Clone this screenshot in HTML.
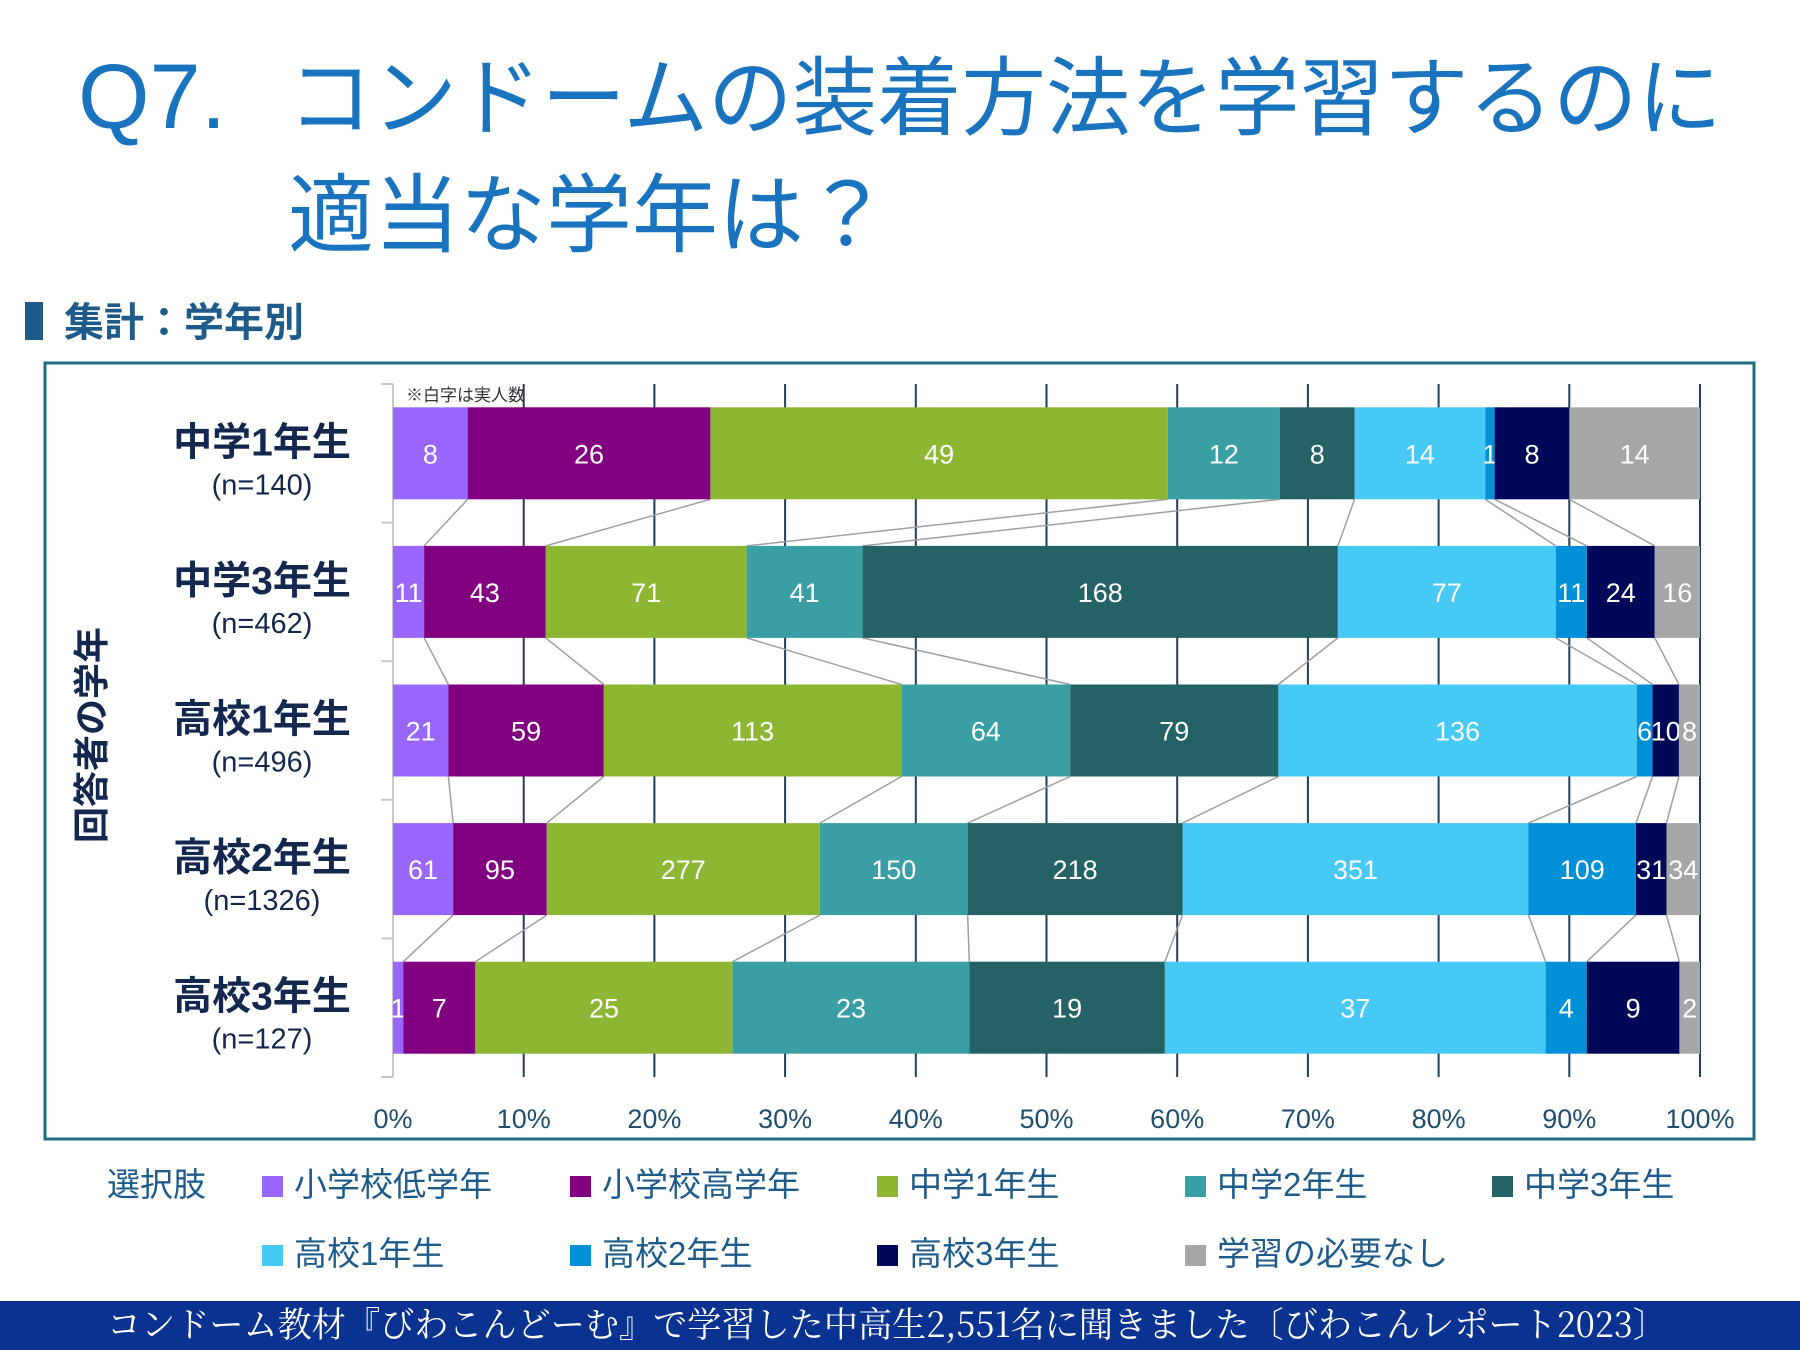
<!DOCTYPE html>
<html><head><meta charset="utf-8">
<style>
body{margin:0;width:1800px;height:1350px;background:#fff;overflow:hidden;font-family:"Liberation Sans","Noto Sans CJK JP",sans-serif}
svg{display:block}
</style></head>
<body>
<svg id="c" width="1800" height="1350" xmlns="http://www.w3.org/2000/svg" font-family="Liberation Sans, Noto Sans CJK JP, sans-serif">
<text x="78" y="128" font-size="92" fill="#1a73bf" font-family="Liberation Sans, Noto Sans CJK JP, sans-serif">Q7.</text>
<text x="288" y="128" font-size="86" fill="#1a73bf" textLength="1434" lengthAdjust="spacingAndGlyphs" font-family="Noto Sans CJK JP, sans-serif">コンドームの装着方法を学習するのに</text>
<text x="288" y="245" font-size="86" fill="#1a73bf" font-family="Noto Sans CJK JP, sans-serif">適当な学年は？</text>
<rect x="25" y="302" width="18" height="38" fill="#1f5b8a"/>
<text x="64" y="336" font-size="40" font-weight="bold" fill="#1f5b8a" font-family="Noto Sans CJK JP, sans-serif">集計：学年別</text>
<rect x="45" y="363" width="1709" height="776" fill="none" stroke="#1f6b80" stroke-width="3"/>
<g id="plot"></g>
<text x="406" y="401" font-size="17" fill="#333" font-family="Noto Sans CJK JP, sans-serif">※白字は実人数</text>
<text transform="translate(104,735) rotate(-90)" text-anchor="middle" font-size="36" font-weight="bold" fill="#14284f" font-family="Noto Sans CJK JP, sans-serif">回答者の学年</text>
<g id="legend"></g>
<rect x="0" y="1301" width="1800" height="49" fill="#0a3291"/>
<text x="107" y="1337" font-size="35" fill="#fff" textLength="1560" lengthAdjust="spacingAndGlyphs" font-family="Noto Serif CJK SC, Noto Sans CJK JP, serif">コンドーム教材『びわこんどーむ』で学習した中高生2,551名に聞きました〔びわこんレポート2023〕</text>
</svg>
<script>
const categories=["中学1年生","中学3年生","高校1年生","高校2年生","高校3年生"];
const nLabels=["(n=140)","(n=462)","(n=496)","(n=1326)","(n=127)"];
const seriesNames=["小学校低学年","小学校高学年","中学1年生","中学2年生","中学3年生","高校1年生","高校2年生","高校3年生","学習の必要なし"];
const row1=[8,26,49,12,8,14,1,8,14];
const row2=[11,43,71,41,168,77,11,24,16];
const row3=[21,59,113,64,79,136,6,10,8];
const row4=[61,95,277,150,218,351,109,31,34];
const row5=[1,7,25,23,19,37,4,9,2];
const tickLabels=["0%","10%","20%","30%","40%","50%","60%","70%","80%","90%","100%"];
const colors=["#9966ff","#800080","#8db733","#3a9ea5","#256266","#47c9f5","#0090d8","#000857","#a6a6a6"];
const rows=[row1,row2,row3,row4,row5];
const NS="http://www.w3.org/2000/svg";
const X0=393,X1=1700,Ytop=384,Ybot=1077;
const band=(Ybot-Ytop)/categories.length, BH=92;
const xs=p=>X0+(X1-X0)*p;
const yc=i=>Ytop+band*(i+0.5);
function mk(t,a,parent){const e=document.createElementNS(NS,t);for(const k in a)e.setAttribute(k,a[k]);parent.appendChild(e);return e;}
const plot=document.getElementById('plot');
tickLabels.forEach((t,i)=>{
 const x=xs(i/10);
 const g=mk('line',{x1:x,x2:x,y1:Ytop,y2:Ybot,stroke:i==0?'#c8c8c8':'#1f3d5c','stroke-width':2},plot);
 
 
 const tx=mk('text',{x:x,y:1128,'text-anchor':'middle','font-size':27,fill:'#1f4e6e'},plot);
 tx.textContent=t;
 
 
});
for(let i=0;i<=categories.length;i++){
 const y=Ytop+band*i;
 const t=mk('line',{x1:X0-12,x2:X0,y1:y,y2:y,stroke:'#c8c8c8','stroke-width':2},plot);
 
 
}
const cum=rows.map(r=>{const s=r.reduce((a,b)=>a+b,0);let c=0;return r.map(v=>{c+=v;return c/s;});});
for(let i=0;i<rows.length-1;i++){
 for(let j=0;j<seriesNames.length-1;j++){
  const l=mk('line',{x1:xs(cum[i][j]),y1:yc(i)+BH/2,x2:xs(cum[i+1][j]),y2:yc(i+1)-BH/2,stroke:'#a0a0a0','stroke-width':1.5},plot);
  
  
 }
}
rows.forEach((r,i)=>{
 const s=r.reduce((a,b)=>a+b,0);let c=0;
 r.forEach((v,j)=>{
  const xa=xs(c/s);c+=v;const xb=xs(c/s);
  const b=mk('rect',{x:xa,y:yc(i)-BH/2,width:xb-xa,height:BH,fill:colors[j]},plot);
  
  
  const t=mk('text',{x:(xa+xb)/2,y:yc(i)+10,'text-anchor':'middle','font-size':27,fill:'#fff'},plot);
  t.textContent=v;
  
  
 });
 const cl=mk('text',{x:262,y:yc(i)+2,'text-anchor':'middle','font-size':39,'font-weight':'bold',fill:'#14284f'},plot);
 cl.textContent=categories[i];
 
 
 const nl=mk('text',{x:262,y:yc(i)+41,'text-anchor':'middle','font-size':29,fill:'#14284f'},plot);
 nl.textContent=nLabels[i];
 
 
});
const lg=document.getElementById('legend');
const lt=mk('text',{x:107,y:1196,'font-size':33,fill:'#1f5b8a'},lg);
lt.textContent="選択肢";


const cols=[262,570,877,1185,1492];
seriesNames.forEach((n,j)=>{
 const x=cols[j%5],y=j<5?1196:1265;
 const sq=mk('rect',{x:x,y:y-20,width:21,height:21,fill:colors[j]},lg);
 
 
 const t=mk('text',{x:x+32,y:y,'font-size':33,fill:'#1f5b8a'},lg);
 t.textContent=n;
 
 
});
</script>
</body></html>
